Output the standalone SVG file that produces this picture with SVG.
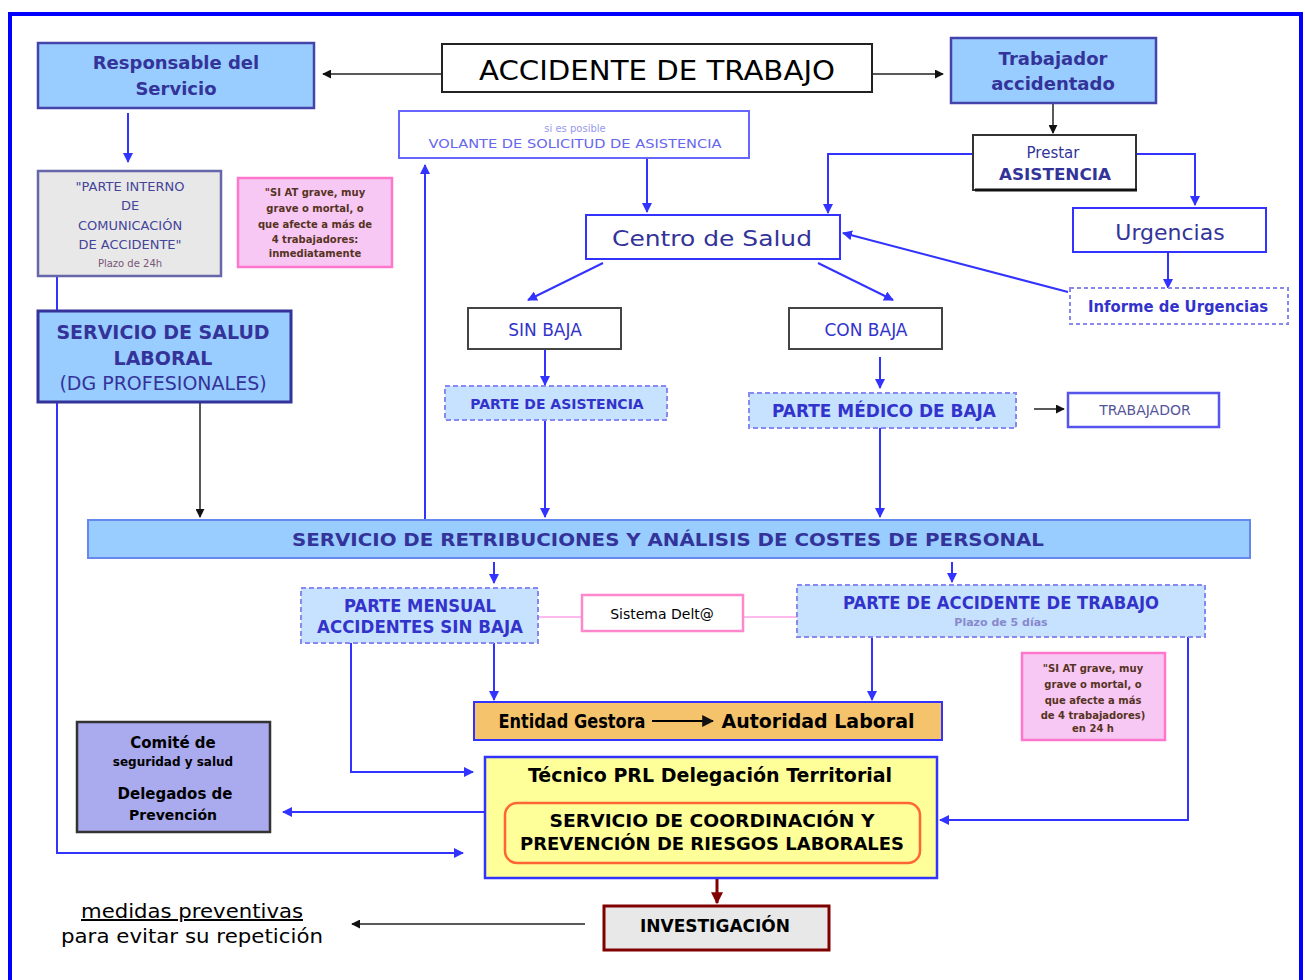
<svg xmlns="http://www.w3.org/2000/svg" width="1305" height="980" viewBox="0 0 1305 980">
<defs>
<style>
text{font-family:"DejaVu Sans","Liberation Sans",sans-serif;text-anchor:middle}
.b{font-weight:bold}
.nv{fill:#333399}
.bl{fill:#3333cc}
.k{fill:#000}
.ln{fill:none;stroke:#3333ff;stroke-width:2}
.lk{fill:none;stroke:#222;stroke-width:1.5}
.dash{fill:#c6e2ff;stroke:#8888ee;stroke-width:2;stroke-dasharray:5 3}
.pink{fill:#f8c8f4;stroke:#ff77cc;stroke-width:2.5}
</style>
<marker id="ab" viewBox="0 0 10 10" refX="9" refY="5" markerWidth="5" markerHeight="5" orient="auto"><path d="M0,0L10,5L0,10z" fill="#3333ff"/></marker>
<marker id="ak" viewBox="0 0 10 10" refX="9" refY="5" markerWidth="6" markerHeight="6" orient="auto"><path d="M0,0L10,5L0,10z" fill="#111"/></marker>
<marker id="ar" viewBox="0 0 10 10" refX="9" refY="5" markerWidth="4" markerHeight="4" orient="auto"><path d="M0,0L10,5L0,10z" fill="#800000"/></marker>
</defs>
<rect x="0" y="0" width="1305" height="980" fill="#fff"/>
<rect x="10" y="14" width="1291" height="980" fill="none" stroke="#0000ff" stroke-width="4"/>

<g id="connectors">
<line class="lk" x1="442" y1="74" x2="323" y2="74" marker-end="url(#ak)"/>
<line class="lk" x1="872" y1="74" x2="943" y2="74" marker-end="url(#ak)"/>
<line class="ln" x1="128" y1="113" x2="128" y2="162" marker-end="url(#ab)"/>
<line class="lk" x1="1053" y1="103" x2="1053" y2="133" marker-end="url(#ak)"/>
<polyline class="ln" points="973,154 828,154 828,213" marker-end="url(#ab)"/>
<polyline class="ln" points="1136,154 1195,154 1195,205" marker-end="url(#ab)"/>
<line class="ln" x1="647" y1="158" x2="647" y2="212" marker-end="url(#ab)"/>
<line class="ln" x1="1168" y1="252" x2="1168" y2="288" marker-end="url(#ab)"/>
<line class="ln" x1="1068" y1="292" x2="843" y2="233" marker-end="url(#ab)"/>
<line class="ln" x1="603" y1="263" x2="528" y2="300" marker-end="url(#ab)"/>
<line class="ln" x1="818" y1="263" x2="893" y2="300" marker-end="url(#ab)"/>
<line class="ln" x1="545" y1="349" x2="545" y2="385" marker-end="url(#ab)"/>
<line class="ln" x1="880" y1="357" x2="880" y2="388" marker-end="url(#ab)"/>
<line class="lk" x1="1034" y1="409" x2="1064" y2="409" marker-end="url(#ak)"/>
<line class="ln" x1="545" y1="420" x2="545" y2="517" marker-end="url(#ab)"/>
<line class="ln" x1="880" y1="428" x2="880" y2="517" marker-end="url(#ab)"/>
<line class="lk" x1="200" y1="402" x2="200" y2="517" marker-end="url(#ak)"/>
<line class="ln" x1="425" y1="520" x2="425" y2="165" marker-end="url(#ab)"/>
<line class="ln" x1="57" y1="276" x2="57" y2="311"/>
<polyline class="ln" points="57,402 57,853 463,853" marker-end="url(#ab)"/>
<line class="ln" x1="494" y1="562" x2="494" y2="583" marker-end="url(#ab)"/>
<line class="ln" x1="952" y1="562" x2="952" y2="582" marker-end="url(#ab)"/>
<line class="ln" x1="494" y1="643" x2="494" y2="700" marker-end="url(#ab)"/>
<line class="ln" x1="872" y1="637" x2="872" y2="700" marker-end="url(#ab)"/>
<line x1="538" y1="617" x2="582" y2="617" stroke="#ffbbee" stroke-width="2"/>
<line x1="743" y1="617" x2="797" y2="617" stroke="#ffbbee" stroke-width="2"/>
<polyline class="ln" points="351,643 351,772 473,772" marker-end="url(#ab)"/>
<polyline class="ln" points="1188,637 1188,820 940,820" marker-end="url(#ab)"/>
<line class="ln" x1="485" y1="812" x2="283" y2="812" marker-end="url(#ab)"/>
<line x1="717" y1="863" x2="717" y2="903" stroke="#800000" stroke-width="3" marker-end="url(#ar)"/>
<line class="lk" x1="585" y1="924" x2="352" y2="924" marker-end="url(#ak)"/>
</g>

<g id="responsable">
<rect x="38" y="43" width="276" height="65" fill="#99ccff" stroke="#4444aa" stroke-width="2.5"/>
<text x="176" y="69" class="b nv" font-size="18">Responsable del</text>
<text x="176" y="95" class="b nv" font-size="18">Servicio</text>
</g>
<g id="accidente">
<rect x="442" y="44" width="430" height="48" fill="#fff" stroke="#222" stroke-width="2"/>
<text x="657" y="80" class="k" font-size="26" textLength="356" lengthAdjust="spacingAndGlyphs">ACCIDENTE DE TRABAJO</text>
</g>
<g id="trabajador-accidentado">
<rect x="951" y="38" width="205" height="65" fill="#99ccff" stroke="#4444aa" stroke-width="2.5"/>
<text x="1053" y="65" class="b nv" font-size="18">Trabajador</text>
<text x="1053" y="90" class="b nv" font-size="18">accidentado</text>
</g>
<g id="volante">
<rect x="399" y="111" width="350" height="47" fill="#fff" stroke="#6666ff" stroke-width="2"/>
<text x="575" y="132" font-size="10" fill="#9999ee">si es posible</text>
<text x="575" y="148" font-size="12" fill="#6666ee" textLength="293" lengthAdjust="spacingAndGlyphs">VOLANTE DE SOLICITUD DE ASISTENCIA</text>
</g>
<g id="prestar">
<rect x="973" y="135" width="163" height="55" fill="#fff" stroke="#333" stroke-width="2"/>
<line x1="975" y1="190" x2="1137" y2="190" stroke="#111" stroke-width="3"/>
<text x="1053" y="158" class="nv" font-size="15">Prestar</text>
<text x="1055" y="180" class="b nv" font-size="16" textLength="112" lengthAdjust="spacingAndGlyphs">ASISTENCIA</text>
</g>
<g id="centro-salud">
<rect x="586" y="215" width="254" height="44" fill="#fff" stroke="#3333ff" stroke-width="2"/>
<text x="712" y="246" class="nv" font-size="22" textLength="200" lengthAdjust="spacingAndGlyphs">Centro de Salud</text>
</g>
<g id="urgencias">
<rect x="1073" y="208" width="193" height="44" fill="#fff" stroke="#3333ff" stroke-width="2"/>
<text x="1170" y="240" class="nv" font-size="22">Urgencias</text>
</g>
<g id="informe-urgencias">
<rect x="1070" y="288" width="218" height="36" fill="#fff" stroke="#8888ee" stroke-width="2" stroke-dasharray="4 3"/>
<text x="1178" y="312" class="b bl" font-size="15" textLength="180" lengthAdjust="spacingAndGlyphs">Informe de Urgencias</text>
</g>
<g id="parte-interno">
<rect x="38" y="171" width="183" height="105" fill="#e8e8e8" stroke="#6666aa" stroke-width="2.5"/>
<text x="130" y="191" font-size="13" fill="#444499">"PARTE INTERNO</text>
<text x="130" y="210" font-size="13" fill="#444499">DE</text>
<text x="130" y="230" font-size="13" fill="#444499">COMUNICACIÓN</text>
<text x="130" y="249" font-size="13" fill="#444499">DE ACCIDENTE"</text>
<text x="130" y="267" font-size="10" fill="#775577">Plazo de 24h</text>
</g>
<g id="nota-siat-1">
<rect x="238" y="178" width="154" height="89" class="pink"/>
<g font-size="10" class="b" fill="#553322">
<text x="315" y="196">"SI AT grave, muy</text>
<text x="315" y="212">grave o mortal, o</text>
<text x="315" y="228">que afecte a más de</text>
<text x="315" y="243">4 trabajadores:</text>
<text x="315" y="257">inmediatamente</text>
</g>
</g>
<g id="servicio-salud-laboral">
<rect x="38" y="311" width="253" height="91" fill="#99ccff" stroke="#333399" stroke-width="3"/>
<text x="163" y="339" class="b nv" font-size="19">SERVICIO DE SALUD</text>
<text x="163" y="365" class="b nv" font-size="19">LABORAL</text>
<text x="163" y="390" class="nv" font-size="19">(DG PROFESIONALES)</text>
</g>
<g id="sin-baja">
<rect x="468" y="308" width="153" height="41" fill="#fff" stroke="#444" stroke-width="2"/>
<text x="545" y="336" class="bl" font-size="17">SIN BAJA</text>
</g>
<g id="con-baja">
<rect x="789" y="308" width="153" height="41" fill="#fff" stroke="#444" stroke-width="2"/>
<text x="866" y="336" class="bl" font-size="17">CON BAJA</text>
</g>
<g id="parte-asistencia">
<rect x="445" y="386" width="222" height="34" class="dash"/>
<text x="557" y="409" class="b bl" font-size="14">PARTE DE ASISTENCIA</text>
</g>
<g id="parte-medico-baja">
<rect x="749" y="393" width="267" height="35" class="dash"/>
<text x="884" y="417" class="b bl" font-size="17" textLength="224" lengthAdjust="spacingAndGlyphs">PARTE MÉDICO DE BAJA</text>
</g>
<g id="trabajador">
<rect x="1068" y="393" width="151" height="34" fill="#fff" stroke="#5555ee" stroke-width="2.5"/>
<text x="1145" y="415" font-size="14" fill="#555599">TRABAJADOR</text>
</g>
<g id="servicio-retribuciones">
<rect x="88" y="520" width="1162" height="38" fill="#99ccff" stroke="#6688ee" stroke-width="2"/>
<text x="668" y="546" class="b nv" font-size="18" textLength="752" lengthAdjust="spacingAndGlyphs">SERVICIO DE RETRIBUCIONES Y ANÁLISIS DE COSTES DE PERSONAL</text>
</g>
<g id="parte-mensual">
<rect x="301" y="588" width="237" height="55" class="dash"/>
<text x="420" y="612" class="b bl" font-size="17" textLength="152" lengthAdjust="spacingAndGlyphs">PARTE MENSUAL</text>
<text x="420" y="633" class="b bl" font-size="17" textLength="206" lengthAdjust="spacingAndGlyphs">ACCIDENTES SIN BAJA</text>
</g>
<g id="sistema-delta">
<rect x="582" y="595" width="161" height="36" fill="#fff" stroke="#ff88cc" stroke-width="2.5"/>
<text x="662" y="619" class="k" font-size="14">Sistema Delt@</text>
</g>
<g id="parte-accidente-trabajo">
<rect x="797" y="585" width="408" height="52" class="dash"/>
<text x="1001" y="609" class="b bl" font-size="17" textLength="316" lengthAdjust="spacingAndGlyphs">PARTE DE ACCIDENTE DE TRABAJO</text>
<text x="1001" y="626" class="b" font-size="11" fill="#8888cc">Plazo de 5 días</text>
</g>
<g id="nota-siat-2">
<rect x="1022" y="653" width="143" height="87" class="pink"/>
<g font-size="10" class="b" fill="#553322">
<text x="1093" y="672">"SI AT grave, muy</text>
<text x="1093" y="688">grave o mortal, o</text>
<text x="1093" y="704">que afecte a más</text>
<text x="1093" y="719">de 4 trabajadores)</text>
<text x="1093" y="732">en 24 h</text>
</g>
</g>
<g id="entidad-gestora">
<rect x="474" y="702" width="468" height="38" fill="#f5c36b" stroke="#3333ff" stroke-width="2"/>
<text x="572" y="728" class="b k" font-size="19" textLength="147" lengthAdjust="spacingAndGlyphs">Entidad Gestora</text>
<line x1="652" y1="721" x2="713" y2="721" stroke="#000" stroke-width="2" marker-end="url(#ak)"/>
<text x="818" y="728" class="b k" font-size="19" textLength="193" lengthAdjust="spacingAndGlyphs">Autoridad Laboral</text>
</g>
<g id="comite">
<rect x="77" y="722" width="193" height="110" fill="#aaaaee" stroke="#333" stroke-width="2.5"/>
<text x="173" y="748" class="b k" font-size="15">Comité de</text>
<text x="173" y="766" class="b k" font-size="12">seguridad y salud</text>
<text x="175" y="799" class="b k" font-size="15">Delegados de</text>
<text x="173" y="820" class="b k" font-size="14">Prevención</text>
</g>
<g id="tecnico-prl">
<rect x="485" y="757" width="452" height="121" fill="#ffff99" stroke="#3333ff" stroke-width="2.5"/>
<text x="710" y="782" class="b k" font-size="19">Técnico PRL Delegación Territorial</text>
<rect x="505" y="803" width="415" height="60" rx="12" fill="#ffff99" stroke="#ff6633" stroke-width="2.5"/>
<text x="712" y="827" class="b k" font-size="17" textLength="325" lengthAdjust="spacingAndGlyphs">SERVICIO DE COORDINACIÓN Y</text>
<text x="712" y="850" class="b k" font-size="17" textLength="384" lengthAdjust="spacingAndGlyphs">PREVENCIÓN DE RIESGOS LABORALES</text>
</g>
<g id="investigacion">
<rect x="604" y="906" width="225" height="44" fill="#e8e8e8" stroke="#800000" stroke-width="3"/>
<text x="715" y="932" class="b k" font-size="17">INVESTIGACIÓN</text>
</g>
<g id="medidas">
<text x="192" y="918" class="k" font-size="20" text-decoration="underline" textLength="222" lengthAdjust="spacingAndGlyphs">medidas preventivas</text>
<text x="192" y="943" class="k" font-size="20" textLength="262" lengthAdjust="spacingAndGlyphs">para evitar su repetición</text>
</g>
</svg>
